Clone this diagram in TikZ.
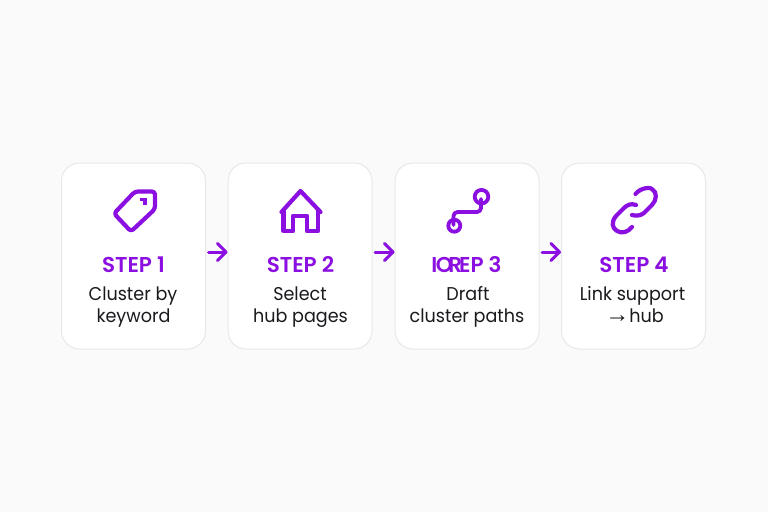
\documentclass[tikz,border=0pt]{standalone}
\usepackage{fontspec}
\setmainfont{Poppins}[FakeStretch=0.95]
\newfontfamily\headfont{Poppins SemiBold}
\newfontfamily\arrowfont{Liberation Sans}
\definecolor{bgc}{HTML}{FAFAFA}
\definecolor{edgec}{HTML}{E8E8E8}
\definecolor{purp}{HTML}{8A0FE0}
\definecolor{inkc}{HTML}{1A1A1E}
\tikzset{
  card/.style={draw=edgec,line width=1pt,fill=white,rounded corners=18pt,minimum height=186pt,inner sep=0pt,outer sep=0pt},
  icon/.style={draw=purp,line width=4.2pt,line join=round,line cap=round},
  thinicon/.style={draw=purp,line width=3.8pt,line join=round,line cap=round},
  flow/.style={draw=purp,line width=3pt,line cap=round,line join=round},
  stephead/.style={anchor=base,text=purp,font=\fontsize{21.5}{24}\headfont,inner sep=0pt},
  body/.style={anchor=base,text=inkc,font=\fontsize{18.5}{22}\selectfont,inner sep=0pt},
}
\begin{document}
\begin{tikzpicture}[x=1pt,y=-1pt]
\useasboundingbox (0,0) rectangle (768,512);
\fill[bgc] (0,0) rectangle (768,512);
\node[card,minimum width=144pt] (c1) at (133.5,256) {};
\node[card,minimum width=144pt] (c2) at (300,256) {};
\node[card,minimum width=144pt] (c3) at (467,256) {};
\node[card,minimum width=144pt] (c4) at (633.5,256) {};
% connectors
\foreach \a/\b in {c1/c2,c2/c3,c3/c4}{
  \draw[flow] ([shift={(3,-4)}]\a.east) coordinate (s) -- ([shift={(-2,-4)}]\b.west) coordinate (e);
  \draw[flow] ([shift={(-8.5,-8.5)}]e) -- (e) -- ([shift={(-8.5,8.5)}]e);
}
% tag
\draw[icon,rounded corners=3pt] (135,191.5) -- (155,191.5) -- (155,209) -- (131,231.5) -- (114,213.5) -- cycle;
\draw[draw=purp,line width=3.5pt] (139.5,199.5) -- (145,199.5) -- (145,205);
% house
\draw[icon] (281.5,212) -- (300.5,191) -- (320.5,212);
\draw[icon] (283.5,211) -- (283.5,231) -- (293,231) -- (293,216) -- (307,216) -- (307,231) -- (318,231) -- (318,211);
% path
\draw[thinicon] (481.5,196.7) circle (6.8);
\draw[thinicon] (454.3,225.7) circle (6);
\draw[thinicon,rounded corners=4pt] (481,199) -- (481,212) -- (453.5,212) -- (453.5,225);
% link
\draw[icon] (635.5,194) .. controls (641,187) and (652,187) .. (652.5,189.5) .. controls (657,192) and (657,200) .. (652,205) -- (644,213) .. controls (640,216) and (636,216) .. (632,215);
\draw[icon] (636,205) .. controls (631,203) and (627,205) .. (624,208) -- (616,216) .. controls (611,222) and (612,228) .. (617,231) .. controls (622,234) and (628,232) .. (632,227);
% heads
\node[stephead] (h1) at (133.5,272) {STEP 1};
\node[stephead] (h2) at (300.5,272) {STEP 2};
\node[stephead] (h3) at (466.5,272) {I\kern-1.5ptO\kern-4.5ptR\kern-3ptEP 3};
\node[stephead] (h4) at (634,272) {STEP 4};
% body
\node[body] (a1) at (133,300) {Cluster by};
\node[body] (b1) at (133.5,322) {keyword};
\node[body] (a2) at (300,300) {Select};
\node[body] (b2) at (300.5,322) {hub pages};
\node[body] (a3) at (468,300) {Draft};
\node[body] (b3) at (467,322) {cluster paths};
\node[body] (a4) at (632.5,300) {Link support};
\node[body] (b4) at (634.5,322) {\smash{\fontsize{24}{24}\arrowfont →}hub};
\end{tikzpicture}
\end{document}
